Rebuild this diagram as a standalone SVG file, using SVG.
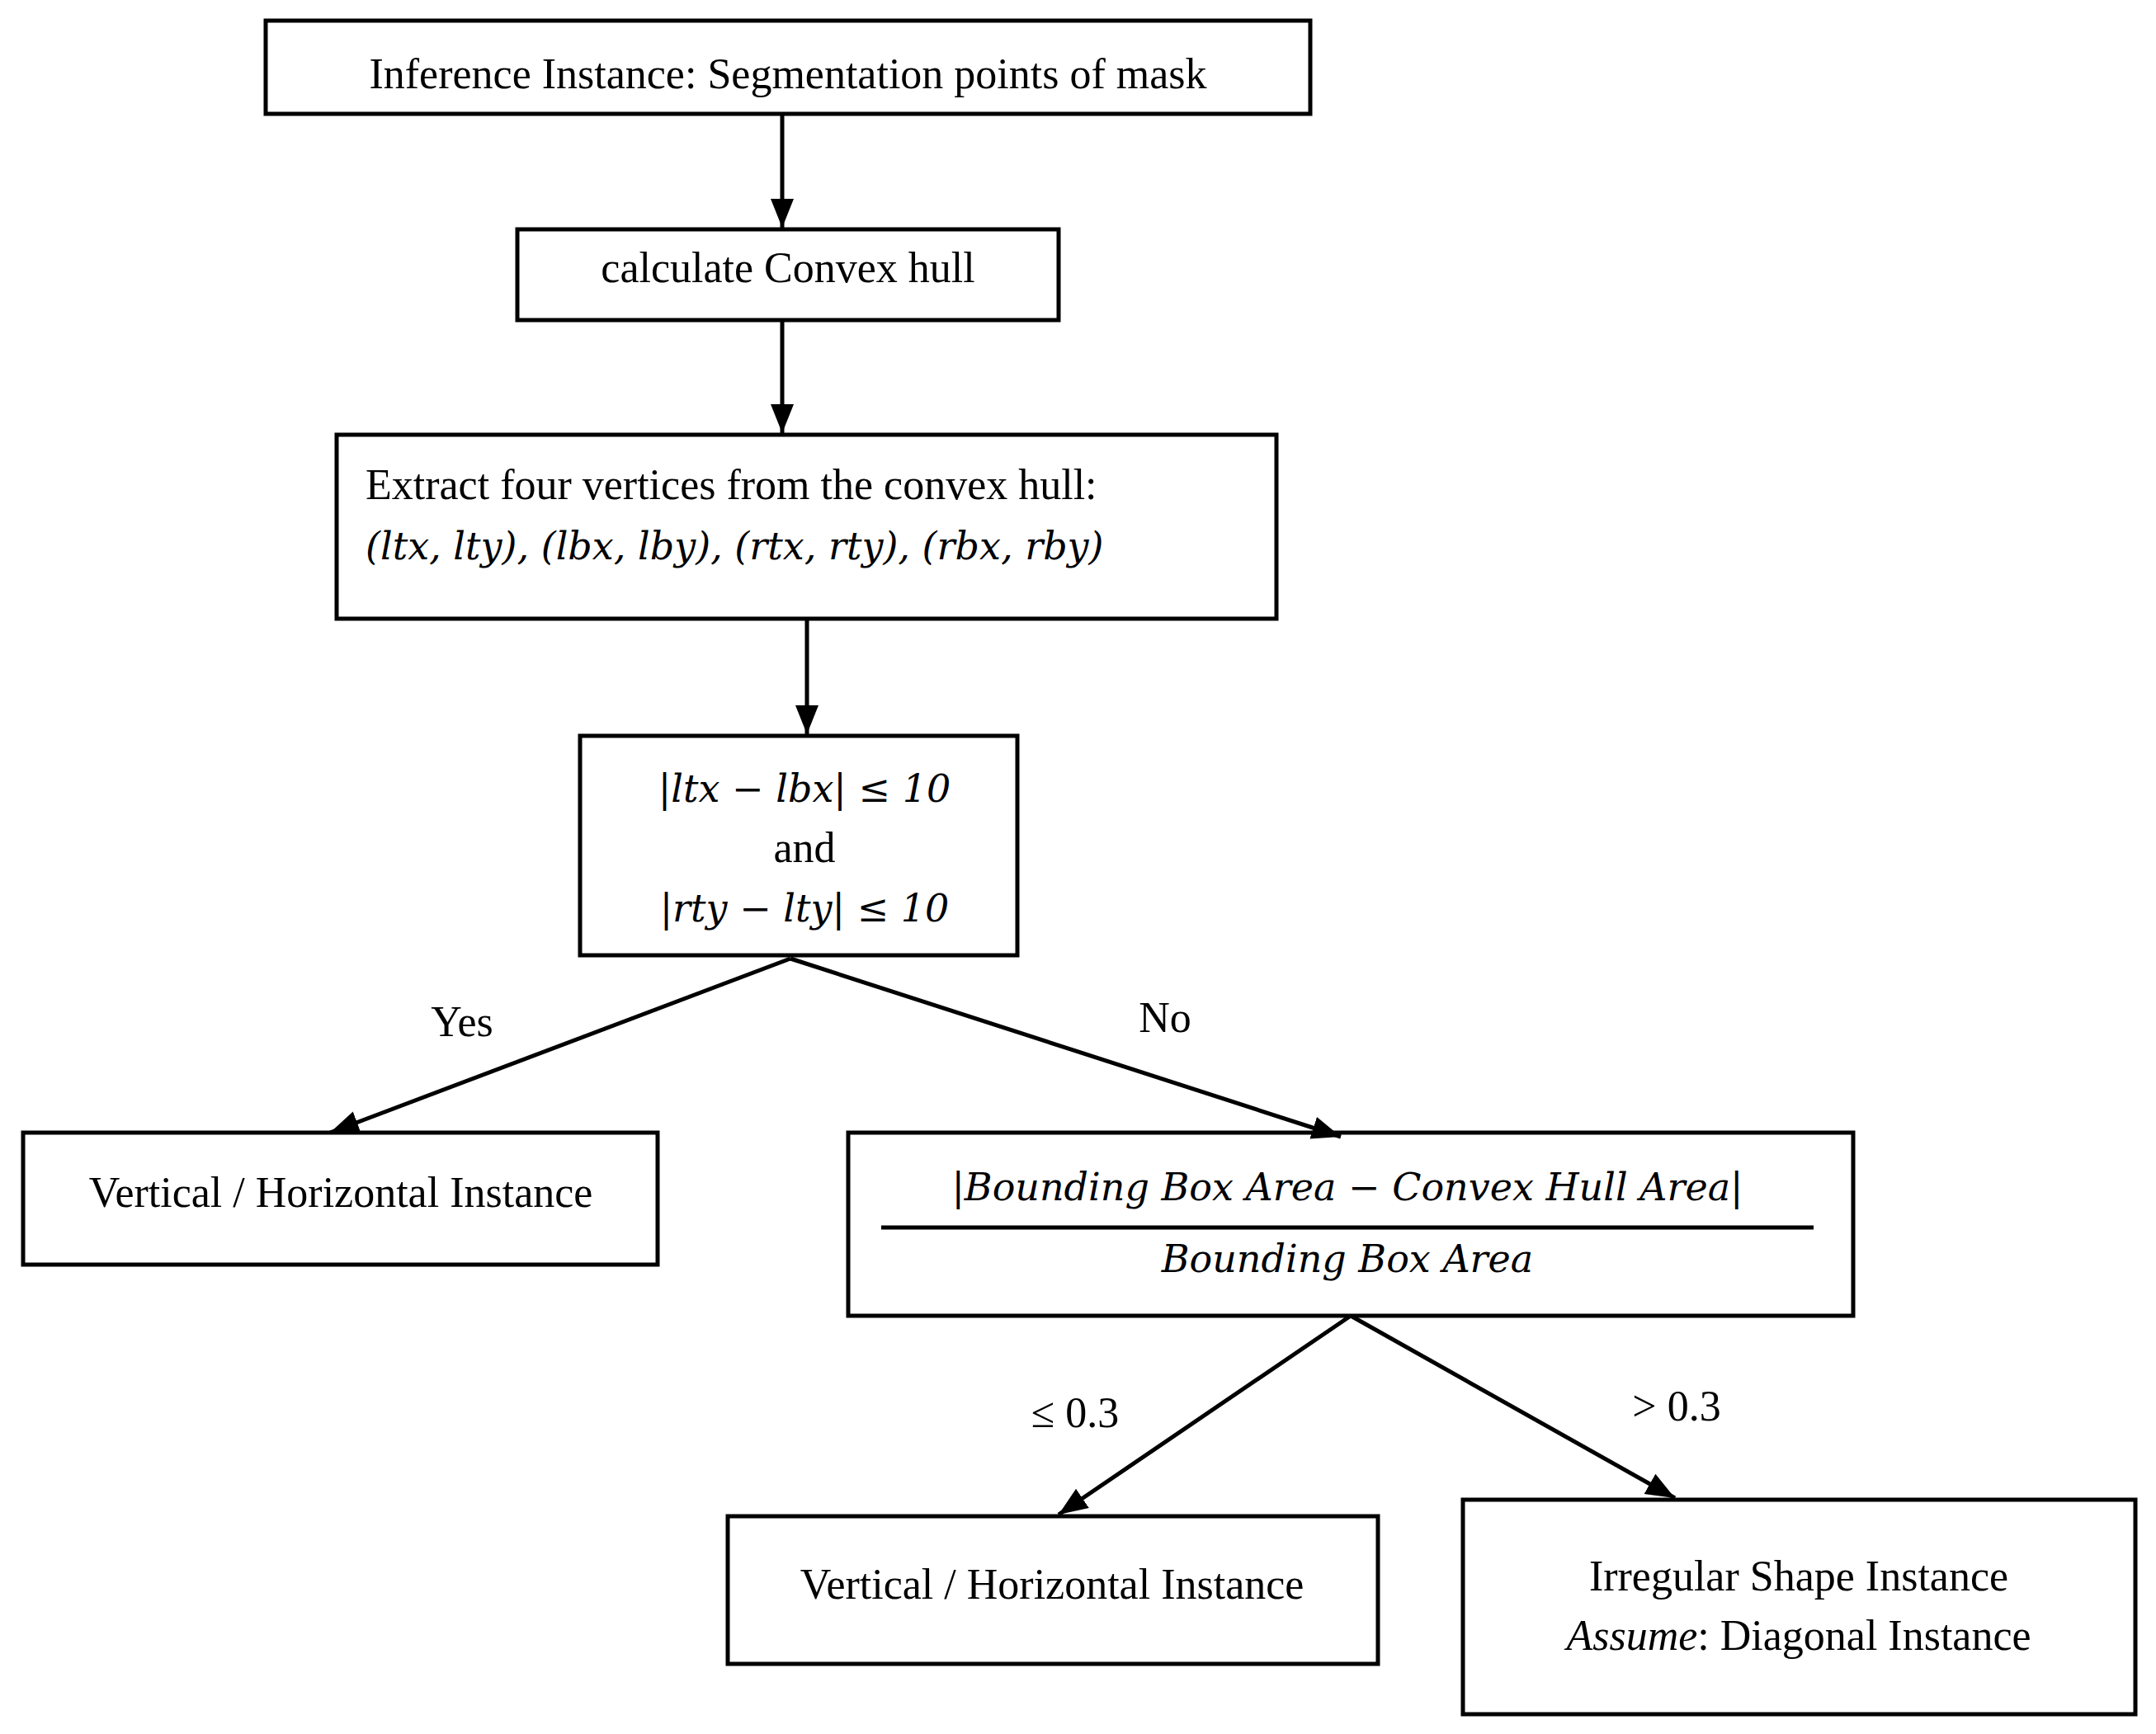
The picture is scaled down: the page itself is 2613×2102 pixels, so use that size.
<svg xmlns="http://www.w3.org/2000/svg" width="2613" height="2102" viewBox="0 0 2613 2102">
<style>
rect{fill:#fff;stroke:#000;stroke-width:5}
text{font-family:"Liberation Serif",serif;font-size:52px;fill:#000}
.m{font-style:italic;font-family:"DejaVu Serif","Liberation Serif",serif;font-size:46px}
.c{text-anchor:middle}
line{stroke:#000;stroke-width:5}
</style>
<defs><marker id="a" viewBox="0 0 10 10" refX="10" refY="5" markerWidth="7" markerHeight="7" markerUnits="strokeWidth" orient="auto"><path d="M0,1 L10,5 L0,9 z" fill="#000"/></marker></defs>
<rect x="0" y="0" width="2613" height="2102" style="stroke:none"/>
<g id="n1"><rect x="322" y="25" width="1266" height="113"/><text class="c" x="955" y="107">Inference Instance: Segmentation points of mask</text></g>
<g id="n2"><rect x="627" y="278" width="656" height="110"/><text class="c" x="955" y="342">calculate Convex hull</text></g>
<g id="n3"><rect x="408" y="527" width="1139" height="223"/><text x="443" y="605">Extract four vertices from the convex hull:</text><text x="443" y="678" class="m">(ltx, lty), (lbx, lby), (rtx, rty), (rbx, rby)</text></g>
<g id="n4"><rect x="703" y="892" width="530" height="266"/><text class="c m" x="975" y="972">|ltx − lbx| ≤ 10</text><text class="c" x="975" y="1045">and</text><text class="c m" x="975" y="1117">|rty − lty| ≤ 10</text></g>
<g id="n5"><rect x="28" y="1373" width="769" height="160"/><text class="c" x="413" y="1463">Vertical / Horizontal Instance</text></g>
<g id="n6"><rect x="1028" y="1373" width="1218" height="222"/><text class="c m" x="1633" y="1455">|Bounding Box Area − Convex Hull Area|</text><line x1="1068" y1="1488" x2="2198" y2="1488"/><text class="c m" x="1633" y="1542">Bounding Box Area</text></g>
<g id="n7"><rect x="882" y="1838" width="788" height="179"/><text class="c" x="1275" y="1938">Vertical / Horizontal Instance</text></g>
<g id="n8"><rect x="1773" y="1818" width="815" height="260"/><text class="c" x="2180" y="1928">Irregular Shape Instance</text><text class="c" x="2180" y="2000"><tspan font-style="italic">Assume</tspan>: Diagonal Instance</text></g>
<g id="edges">
<line x1="948" y1="138" x2="948" y2="276" marker-end="url(#a)"/>
<line x1="948" y1="388" x2="948" y2="525" marker-end="url(#a)"/>
<line x1="978" y1="750" x2="978" y2="890" marker-end="url(#a)"/>
<line x1="958" y1="1162" x2="400" y2="1373" marker-end="url(#a)"/>
<line x1="958" y1="1162" x2="1625" y2="1378" marker-end="url(#a)"/>
<line x1="1637" y1="1595" x2="1283" y2="1836" marker-end="url(#a)"/>
<line x1="1637" y1="1595" x2="2030" y2="1816" marker-end="url(#a)"/>
<text class="c" x="560" y="1256">Yes</text>
<text class="c" x="1412" y="1251">No</text>
<text class="c" x="1303" y="1730">≤ 0.3</text>
<text class="c" x="2032" y="1722">&gt; 0.3</text>
</g>
</svg>
